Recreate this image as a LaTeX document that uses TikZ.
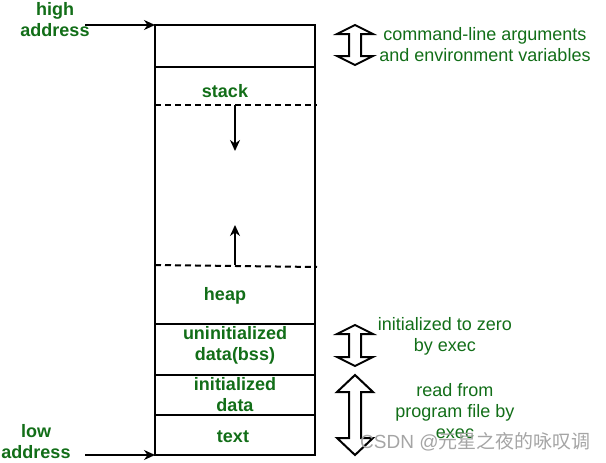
\documentclass[tikz,border=0pt]{standalone}
\usepackage{fontspec}
\setmainfont{Liberation Sans}
\newfontfamily\cjkfont{Noto Sans CJK SC}
\usetikzlibrary{arrows.meta}
\definecolor{gfg}{RGB}{18,110,24}
\definecolor{wm}{RGB}{165,165,165}
\tikzset{
  lbl/.style={text=gfg, font=\fontsize{18}{21}\selectfont\bfseries, align=center, inner sep=0pt},
  note/.style={text=gfg, font=\fontsize{18}{21}\selectfont, align=center, inner sep=0pt},
  wall/.style={line width=2pt, draw=black},
  dashline/.style={line width=2pt, dash pattern=on 6pt off 4pt},
  ptr/.style={line width=2pt, -{Stealth[length=11pt,width=10pt]}},
  hollow/.style={line width=2pt, draw=black, fill=white, line join=miter}
}
\newcommand\hollowarrow[5]{% name, x, ytop, ybot, headlen
  \draw[hollow] (#2,#3) -- (#2+18,#3+#5) -- (#2+6,#3+#5) -- (#2+6,#4-#5) -- (#2+18,#4-#5)
    -- (#2,#4) -- (#2-18,#4-#5) -- (#2-6,#4-#5) -- (#2-6,#3+#5) -- (#2-18,#3+#5) -- cycle;
  \coordinate (#1) at (#2,{(#3+#4)/2});
}
\begin{document}
\begin{tikzpicture}[x=1pt,y=-1pt]
\useasboundingbox (0,0) rectangle (606,463);
% corners and levels
\coordinate (tl) at (155,25);
\coordinate (tr) at (315,25);
\coordinate (bl) at (155,455);
\coordinate (br) at (315,455);
\draw[wall] (tl) rectangle (br);
\draw[wall] (155,67) -- (315,67);
\draw[wall] (155,324) -- (315,324);
\draw[wall] (155,375) -- (315,375);
\draw[wall] (155,415) -- (315,415);
% dashed boundaries
\coordinate (sL) at (155,105);
\coordinate (sR) at (317,105);
\coordinate (hL) at (155,265);
\coordinate (hR) at (317,267);
\draw[dashline] (sL) -- (sR);
\draw[dashline] (hL) -- (hR);
% growth arrows
\coordinate (sdA) at (235,105);
\coordinate (sdB) at (235,151);
\coordinate (huA) at (235,265);
\coordinate (huB) at (235,225);
\draw[ptr] (sdA) -- (sdB);
\draw[ptr] (huA) -- (huB);
% segment labels
\node[lbl] (stack) at (225,91) {stack};
\node[lbl] (heap) at (225,296) {heap};
\node[lbl] (bss) at (235,345) {uninitialized\\data(bss)};
\node[lbl] (idata) at (235,395) {initialized\\data};
\node[lbl] (text) at (233,437) {text};
% address labels
\node[lbl] (high) at (55,20) {high\\address};
\node[lbl] (low) at (36,442) {low\\address};
\coordinate (hs) at (85,25);
\coordinate (ls) at (85,455);
\draw[ptr] (hs) -- (tl);
\draw[ptr] (ls) -- (bl);
% hollow double arrows
\hollowarrow{a1}{355}{25}{65}{9}
\hollowarrow{a2}{355}{325}{366}{9}
\hollowarrow{a3}{355}{375}{455}{17}
% notes
\node[note] (n1) at (485,45) {command-line arguments\\and environment variables};
\node[note] (n2) at (445,336) {initialized to zero\\by exec};
\node[note] (n3) at (455,411) {read from\\program file by\\exec};
% watermark
\node[text=wm, inner sep=0pt, anchor=west, font=\fontsize{19}{22}\selectfont] (wmk) at (360,442) {CSDN @{\cjkfont 元星之夜的咏叹调}};
\end{tikzpicture}
\end{document}
